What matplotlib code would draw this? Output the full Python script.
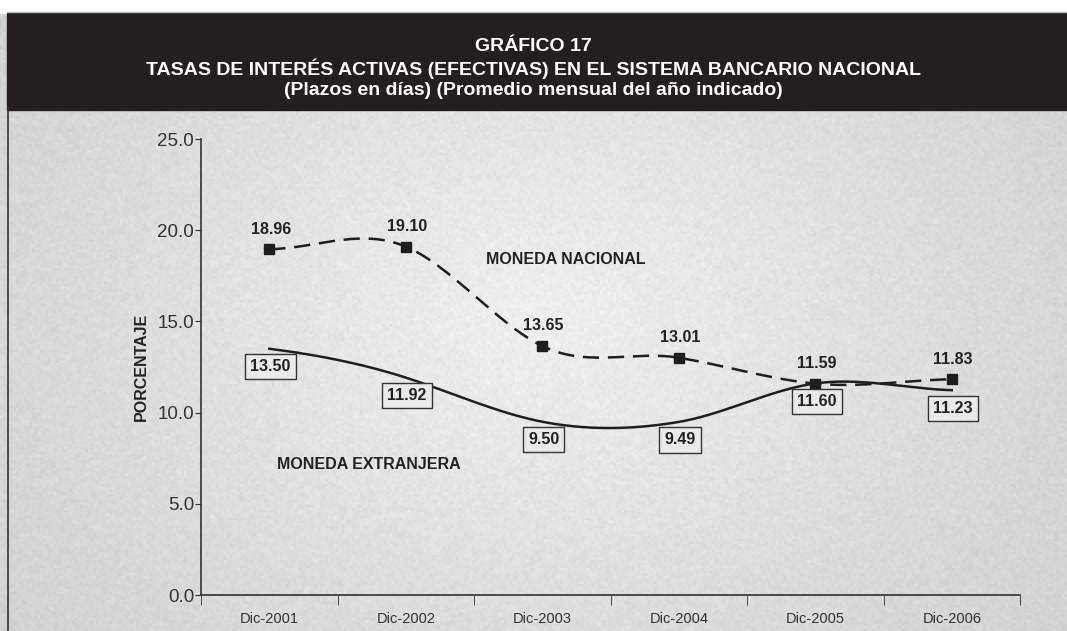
import numpy as np
import matplotlib.pyplot as plt
from matplotlib.patches import Rectangle

plt.rcParams['font.family'] = ['Liberation Sans', 'DejaVu Sans']

categories = ["Dic-2001", "Dic-2002", "Dic-2003", "Dic-2004", "Dic-2005", "Dic-2006"]
nacional = [18.96, 19.10, 13.65, 13.01, 11.59, 11.83]
extranjera = [13.50, 11.92, 9.50, 9.49, 11.60, 11.23]
yticks = [0, 5, 10, 15, 20, 25]

title_lines = ["GRÁFICO 17",
               "TASAS DE INTERÉS ACTIVAS (EFECTIVAS) EN EL SISTEMA BANCARIO NACIONAL",
               "(Plazos en días) (Promedio mensual del año indicado)"]


def smooth(y, steps=30, tension=0.6):
    # cardinal spline through the points, for drawing a smoothed line
    y = np.asarray(y, dtype=float)
    p = np.concatenate([[y[0]], y, [y[-1]]])
    xs, ys = [], []
    for i in range(len(y) - 1):
        p0, p1, p2, p3 = p[i], p[i + 1], p[i + 2], p[i + 3]
        m1 = tension * (p2 - p0)
        m2 = tension * (p3 - p1)
        t = np.linspace(0, 1, steps, endpoint=False)
        h00 = 2 * t ** 3 - 3 * t ** 2 + 1
        h10 = t ** 3 - 2 * t ** 2 + t
        h01 = -2 * t ** 3 + 3 * t ** 2
        h11 = t ** 3 - t ** 2
        xs.append(i + t)
        ys.append(h00 * p1 + h10 * m1 + h01 * p2 + h11 * m2)
    xs.append([len(y) - 1])
    ys.append([y[-1]])
    return np.concatenate(xs), np.concatenate(ys)


fig = plt.figure(figsize=(10.67, 6.31), dpi=100)

# textured gray background with lighter centre
bg = fig.add_axes([0, 0, 1, 1], zorder=-10)
gx, gy = np.meshgrid(np.linspace(-1, 1, 400), np.linspace(-1, 1, 240))
shade = 0.935 - 0.10 * np.clip(np.sqrt((gx * 0.9) ** 2 + (gy * 0.7) ** 2), 0, 1.3)
rng = np.random.default_rng(3)
shade = shade + rng.normal(0, 0.012, shade.shape)
bg.imshow(shade, cmap='gray', vmin=0, vmax=1, aspect='auto', extent=[0, 1, 0, 1])
bg.set_xlim(0, 1)
bg.set_ylim(0, 1)
bg.axis('off')
bg.add_patch(Rectangle((0, 0.98), 1, 0.02, color='white', zorder=1))
bg.add_patch(Rectangle((0.0066, 0.8257), 1, 0.1537, color='#231f20', zorder=2))
bg.plot([0.0075, 0.0075], [0, 0.83], color='#333333', lw=1.2, zorder=3)
bg.plot([0.0066, 1], [0.9805, 0.9805], color='#bbbbbb', lw=1, zorder=3)

for line, yy in zip(title_lines, [0.927, 0.8906, 0.8558]):
    fig.text(0.5, yy, line, color='white', ha='center', va='center',
             fontsize=14, fontweight='bold')

ax = fig.add_axes([0.1884, 0.057, 0.7676, 0.7227])
ax.set_facecolor('none')
x = np.arange(len(categories))

sx, sy = smooth(nacional)
ax.plot(sx, sy, color='#1e1e1e', lw=1.8, dashes=(6.5, 3.5))
ax.plot(x, nacional, ls='none', marker='s', ms=7.5, color='#1e1e1e')
sx, sy = smooth(extranjera)
ax.plot(sx, sy, color='#1e1e1e', lw=1.8)

for xi, v in zip(x, nacional):
    ax.annotate(f"{v:.2f}", (xi, v), xytext=(1, 14.5), textcoords='offset points',
                ha='center', va='center', fontsize=11.5, fontweight='bold', color='#222222')
for xi, v in zip(x, extranjera):
    ax.annotate(f"{v:.2f}", (xi, v), xytext=(1, -13), textcoords='offset points',
                ha='center', va='center', fontsize=11.5, fontweight='bold', color='#222222',
                bbox=dict(boxstyle='square,pad=0.32', fc='#eaeaea', ec='#333333', lw=1))

ax.text(2.17, 18.42, "MONEDA NACIONAL", fontsize=11.5, fontweight='bold', color='#222222',
        ha='center', va='center')
ax.text(0.73, 7.13, "MONEDA EXTRANJERA", fontsize=11.5, fontweight='bold', color='#222222',
        ha='center', va='center')

ax.set_xlim(-0.5, len(categories) - 0.5)
ax.set_ylim(0, 25)
ax.set_yticks(yticks)
ax.set_yticklabels([f"{t:.1f}" for t in yticks], fontsize=13.5, color='#333333')
ax.set_xticks(x)
ax.set_xticklabels(categories, fontsize=10.5, color='#333333')
ax.set_xticks(np.arange(-0.5, len(categories)), minor=True)
ax.tick_params(axis='x', which='major', length=0, pad=12)
ax.tick_params(axis='x', which='minor', length=7, direction='out', color='#333333')
ax.tick_params(axis='y', length=4, direction='out', color='#333333', pad=1)
for side in ['top', 'right']:
    ax.spines[side].set_visible(False)
for side in ['left', 'bottom']:
    ax.spines[side].set_color('#333333')
    ax.spines[side].set_linewidth(1.2)
ax.set_ylabel("PORCENTAJE", fontsize=11.5, fontweight='bold', color='#222222', labelpad=6)

fig.savefig("out.png", dpi=100)
